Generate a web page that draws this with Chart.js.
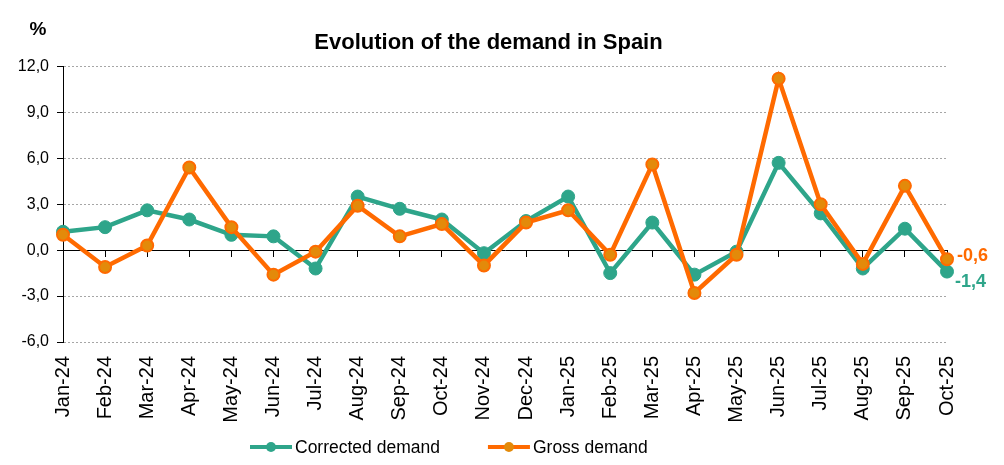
<!DOCTYPE html>
<html>
<head>
<meta charset="utf-8">
<style>
  html, body { margin: 0; padding: 0; background: #fff; }
  #wrap { width: 1004px; height: 465px; }
</style>
<script src="https://cdn.jsdelivr.net/npm/chart.js@4.4.1/dist/chart.umd.min.js"></script>
</head>
<body>
<div id="wrap"><canvas id="myChart" width="1004" height="465"></canvas></div>
<script>
// months on the x axis
const months = ['Jan-24', 'Feb-24', 'Mar-24', 'Apr-24', 'May-24', 'Jun-24', 'Jul-24', 'Aug-24',
  'Sep-24', 'Oct-24', 'Nov-24', 'Dec-24', 'Jan-25', 'Feb-25', 'Mar-25', 'Apr-25', 'May-25',
  'Jun-25', 'Jul-25', 'Aug-25', 'Sep-25', 'Oct-25'];

// year-on-year change, %
const correctedDemand = [1.2, 1.5, 2.6, 2.0, 1.0, 0.9, -1.2, 3.5, 2.7, 2.0, -0.2, 1.9,
  3.5, -1.5, 1.8, -1.6, -0.1, 5.7, 2.4, -1.2, 1.4, -1.4];
const grossDemand = [1.0, -1.1, 0.3, 5.4, 1.5, -1.6, -0.1, 2.9, 0.9, 1.7, -1.0, 1.8,
  2.6, -0.3, 5.6, -2.8, -0.3, 11.2, 3.0, -0.9, 4.2, -0.6];

const yMin = -6;
const yMax = 12;
const yStep = 3;

const GREEN = '#2ea58a';
const ORANGE = '#ff6a00';
const ORANGE_FILL = '#e38a0a';
const FONT = "'Liberation Sans', Arial, sans-serif";

const fmt = v => v.toFixed(1).replace('.', ',');

// "%" unit, value of last point, and the legend at the bottom
const extrasPlugin = {
  id: 'extras',
  afterDatasetsDraw(chart) {
    const ctx = chart.ctx;
    ctx.save();
    ctx.fillStyle = '#000';
    ctx.font = 'bold 19px ' + FONT;
    ctx.textAlign = 'center';
    ctx.textBaseline = 'middle';
    ctx.fillText('%', 38, 30);

    // last value labels
    const offsets = [{dx: 8, dy: 10}, {dx: 10, dy: -3}];
    chart.data.datasets.forEach((ds, i) => {
      const meta = chart.getDatasetMeta(i);
      const pt = meta.data[meta.data.length - 1];
      ctx.font = 'bold 18px ' + FONT;
      ctx.fillStyle = ds.borderColor;
      ctx.textAlign = 'left';
      ctx.fillText(fmt(ds.data[ds.data.length - 1]), pt.x + offsets[i].dx, pt.y + offsets[i].dy);
    });

    // legend
    let x = 250;
    const y = 447;
    ctx.font = '17.5px ' + FONT;
    chart.data.datasets.forEach(ds => {
      ctx.strokeStyle = ds.borderColor;
      ctx.lineWidth = 4;
      ctx.beginPath();
      ctx.moveTo(x, y);
      ctx.lineTo(x + 42, y);
      ctx.stroke();
      ctx.beginPath();
      ctx.arc(x + 21, y, 5, 0, Math.PI * 2);
      ctx.fillStyle = ds.pointBackgroundColor;
      ctx.fill();
      ctx.fillStyle = '#000';
      ctx.textAlign = 'left';
      ctx.fillText(ds.label, x + 45, y + 1);
      x += 45 + ctx.measureText(ds.label).width + 48;
    });
    ctx.restore();
  }
};

const ctx = document.getElementById('myChart').getContext('2d');
const myChart = new Chart(ctx, {
  type: 'line',
  data: {
    labels: months,
    datasets: [
      {
        label: 'Corrected demand',
        data: correctedDemand,
        borderColor: GREEN,
        backgroundColor: GREEN,
        pointBackgroundColor: GREEN,
        pointBorderColor: GREEN,
        borderWidth: 4.5,
        pointRadius: 6.5,
        pointBorderWidth: 1,
        tension: 0,
        order: 2
      },
      {
        label: 'Gross demand',
        data: grossDemand,
        borderColor: ORANGE,
        backgroundColor: ORANGE,
        pointBackgroundColor: ORANGE_FILL,
        pointBorderColor: ORANGE,
        borderWidth: 4.5,
        pointRadius: 6,
        pointBorderWidth: 2,
        tension: 0,
        order: 1
      }
    ]
  },
  options: {
    responsive: false,
    animation: false,
    devicePixelRatio: 1,
    layout: { padding: { left: 0, right: 27, top: 0, bottom: 0 } },
    plugins: {
      legend: { display: false },
      tooltip: { enabled: false },
      title: {
        display: true,
        text: 'Evolution of the demand in Spain',
        color: '#000',
        font: { family: FONT, size: 22, weight: 'bold' },
        padding: { top: 30, bottom: 10 }
      }
    },
    scales: {
      x: {
        type: 'category',
        position: 'bottom',
        grid: { display: false, drawTicks: false },
        border: { display: false },
        ticks: {
          color: '#000',
          font: { family: FONT, size: 20 },
          minRotation: 90,
          maxRotation: 90,
          autoSkip: false,
          padding: 14
        },
        afterFit(scale) { scale.height = 123; }
      },
      x0: {
        type: 'category',
        position: { y: 0 },
        grid: { drawOnChartArea: false, drawTicks: true, tickLength: 6, color: '#000', lineWidth: 1 },
        border: { display: true, color: '#000', width: 1 },
        ticks: { display: false }
      },
      y: {
        min: yMin,
        max: yMax,
        ticks: {
          stepSize: yStep,
          color: '#000',
          font: { family: FONT, size: 16 },
          padding: 8,
          callback: v => fmt(v)
        },
        grid: {
          color: c => (c.tick && c.tick.value === 0) ? 'rgba(0,0,0,0)' : '#a6a6a6',
          tickColor: '#000',
          tickLength: 6,
          lineWidth: 1
        },
        border: { display: true, color: '#000', width: 1, dash: [2, 2] },
        afterFit(scale) { scale.width = 63; }
      },
      // empty right-hand box that leaves room for the end labels
      yRight: {
        position: 'right',
        min: yMin,
        max: yMax,
        ticks: { display: false },
        grid: { display: false, drawTicks: false },
        border: { display: false },
        afterFit(scale) { scale.width = 30; }
      }
    }
  },
  plugins: [extrasPlugin]
});
</script>
</body>
</html>
